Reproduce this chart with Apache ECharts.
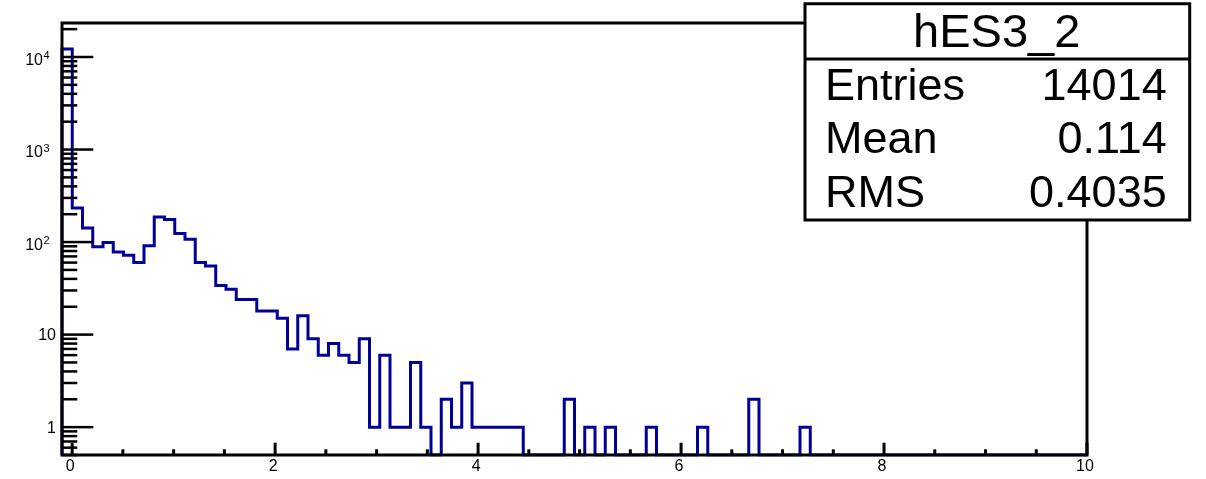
<!DOCTYPE html>
<html><head><meta charset="utf-8">
<script src="https://cdn.jsdelivr.net/npm/echarts@6/dist/echarts.min.js"></script>
<style>html,body{margin:0;padding:0;background:#fff}#c{width:1206px;height:479px}</style>
</head><body><div id="c"></div>
<script>
// ---- data ----
const histName = 'hES3_2';
const xMin = -0.1, xMax = 10, nBins = 100;
const yMin = 0.5, yMax = 23300;
const binCounts = [
  12176, 234, 142, 89, 99, 78, 72, 60, 91, 187,
  175, 124, 107, 60, 55, 34, 31, 24, 24, 18,
  18, 15, 7, 16, 9, 6, 8, 6, 5, 9,
  1, 6, 1, 1, 5, 1, 0, 2, 1, 3,
  1, 1, 1, 1, 1, 0, 0, 0, 0, 2,
  0, 1, 0, 1, 0, 0, 0, 1, 0, 0,
  0, 0, 1, 0, 0, 0, 0, 2, 0, 0,
  0, 0, 1, 0, 0, 0, 0, 0, 0, 0,
  0, 0, 0, 0, 0, 0, 0, 0, 0, 0,
  0, 0, 0, 0, 0, 0, 0, 0, 0, 0
];
const statLabels = ['Entries', 'Mean', 'RMS'];
const statValues = ['14014', '0.114', '0.4035'];
const xMajorTicks = [0, 2, 4, 6, 8, 10];
const xTickLabels = ['0', '2', '4', '6', '8', '10'];
const xMinorTicks = [0.5, 1, 1.5, 2.5, 3, 3.5, 4.5, 5, 5.5, 6.5, 7, 7.5, 8.5, 9, 9.5];
const yMajorTicks = [1, 10, 100, 1000, 10000];
const yLabelBase = ['1', '10', '10', '10', '10'];
const yLabelExp = ['', '', '2', '3', '4'];
const yMinorTicks = [0.5, 0.6, 0.7, 0.8, 0.9,
  2, 3, 4, 5, 6, 7, 8, 9,
  20, 30, 40, 50, 60, 70, 80, 90,
  200, 300, 400, 500, 600, 700, 800, 900,
  2000, 3000, 4000, 5000, 6000, 7000, 8000, 9000,
  20000];

// ---- build ----
const FONT = '"Liberation Sans", Arial, Helvetica, sans-serif';
const binW = (xMax - xMin) / nBins;
const plotVal = c => (c > 0 ? c : yMin);
const stepData = [[xMin, yMin]];
binCounts.forEach((c, k) => stepData.push([xMin + k * binW, plotVal(c)]));
stepData.push([xMax, plotVal(binCounts[nBins - 1])]);
stepData.push([xMax, yMin]);

const xTickData = xMajorTicks.map((v, i) => [v, yMin, 1, i]).concat(xMinorTicks.map(v => [v, yMin, 0, -1]));
const yTickData = yMajorTicks.map((v, i) => [xMin, v, 1, i]).concat(yMinorTicks.map(v => [xMin, v, 0, -1]));

function xTickRender(params, api) {
  const p = api.coord([api.value(0), yMin]);
  const major = api.value(2) === 1;
  const idx = api.value(3);
  const children = [{
    type: 'line',
    shape: { x1: p[0], y1: p[1], x2: p[0], y2: p[1] - (major ? 12.3 : 5.7) },
    style: { stroke: '#000', lineWidth: 3 }
  }];
  if (major) {
    children.push({
      type: 'text',
      style: { text: xTickLabels[idx], x: p[0] - 2, y: p[1] + 12, fill: '#000',
        fontSize: 16, fontFamily: FONT, align: 'center', verticalAlign: 'middle' }
    });
  }
  return { type: 'group', children };
}

function yTickRender(params, api) {
  const p = api.coord([xMin, api.value(1)]);
  const major = api.value(2) === 1;
  const idx = api.value(3);
  const children = [{
    type: 'line',
    shape: { x1: p[0], y1: p[1], x2: p[0] + (major ? 31.3 : 15.3), y2: p[1] },
    style: { stroke: '#000', lineWidth: 2.5 }
  }];
  if (major) {
    const exp = yLabelExp[idx];
    if (exp) {
      children.push({
        type: 'text',
        style: { text: yLabelBase[idx], x: 43, y: p[1] + 3.5, fill: '#000',
          fontSize: 16, fontFamily: FONT, align: 'right', verticalAlign: 'middle' }
      });
      children.push({
        type: 'text',
        style: { text: exp, x: 43.5, y: p[1] - 1, fill: '#000',
          fontSize: 11, fontFamily: FONT, align: 'left', verticalAlign: 'middle' }
      });
    } else {
      children.push({
        type: 'text',
        style: { text: yLabelBase[idx], x: 56, y: p[1] + 1, fill: '#000',
          fontSize: 16, fontFamily: FONT, align: 'right', verticalAlign: 'middle' }
      });
    }
  }
  return { type: 'group', children };
}

const boxL = 805, boxR = 1189.7, boxT = 3.8, boxB = 220, sepY = 59;
const rowY = [87.2, 140.8, 194.2];
const graphicEls = [
  { type: 'rect', z: 10, shape: { x: boxL, y: boxT, width: boxR - boxL, height: boxB - boxT },
    style: { fill: '#fff', stroke: '#000', lineWidth: 3 } },
  { type: 'line', z: 11, shape: { x1: boxL, y1: sepY, x2: boxR, y2: sepY },
    style: { stroke: '#000', lineWidth: 3 } },
  { type: 'text', z: 11, style: { text: histName, x: 996.7, y: 34.2, fill: '#000',
      fontSize: 47, fontFamily: FONT, align: 'center', verticalAlign: 'middle' } }
];
statLabels.forEach((s, i) => {
  graphicEls.push({ type: 'text', z: 11, style: { text: s, x: 825, y: rowY[i], fill: '#000',
    fontSize: 45, fontFamily: FONT, align: 'left', verticalAlign: 'middle' } });
  graphicEls.push({ type: 'text', z: 11, style: { text: statValues[i], x: 1166.7, y: rowY[i], fill: '#000',
    fontSize: 45, fontFamily: FONT, align: 'right', verticalAlign: 'middle' } });
});

const chart = echarts.init(document.getElementById('c'), null, { renderer: 'canvas' });
chart.setOption({
  animation: false,
  backgroundColor: '#fff',
  grid: { left: 62, right: 119, top: 23, bottom: 24, show: true, borderColor: '#000',
    borderWidth: 3, backgroundColor: 'transparent', z: 3 },
  xAxis: { type: 'value', min: xMin, max: xMax, axisLine: { show: false }, axisTick: { show: false },
    axisLabel: { show: false }, splitLine: { show: false } },
  yAxis: { type: 'log', min: yMin, max: yMax, axisLine: { show: false }, axisTick: { show: false },
    axisLabel: { show: false }, splitLine: { show: false } },
  series: [
    { type: 'line', name: histName, data: stepData, step: 'end', showSymbol: false, symbol: 'none',
      lineStyle: { color: '#000099', width: 3, join: 'miter', cap: 'butt' }, z: 2, clip: true },
    { type: 'custom', data: xTickData, renderItem: xTickRender, z: 4, clip: false,
      encode: { x: 0, y: 1 }, silent: true },
    { type: 'custom', data: yTickData, renderItem: yTickRender, z: 4, clip: false,
      encode: { x: 0, y: 1 }, silent: true }
  ],
  graphic: graphicEls
});
</script></body></html>
